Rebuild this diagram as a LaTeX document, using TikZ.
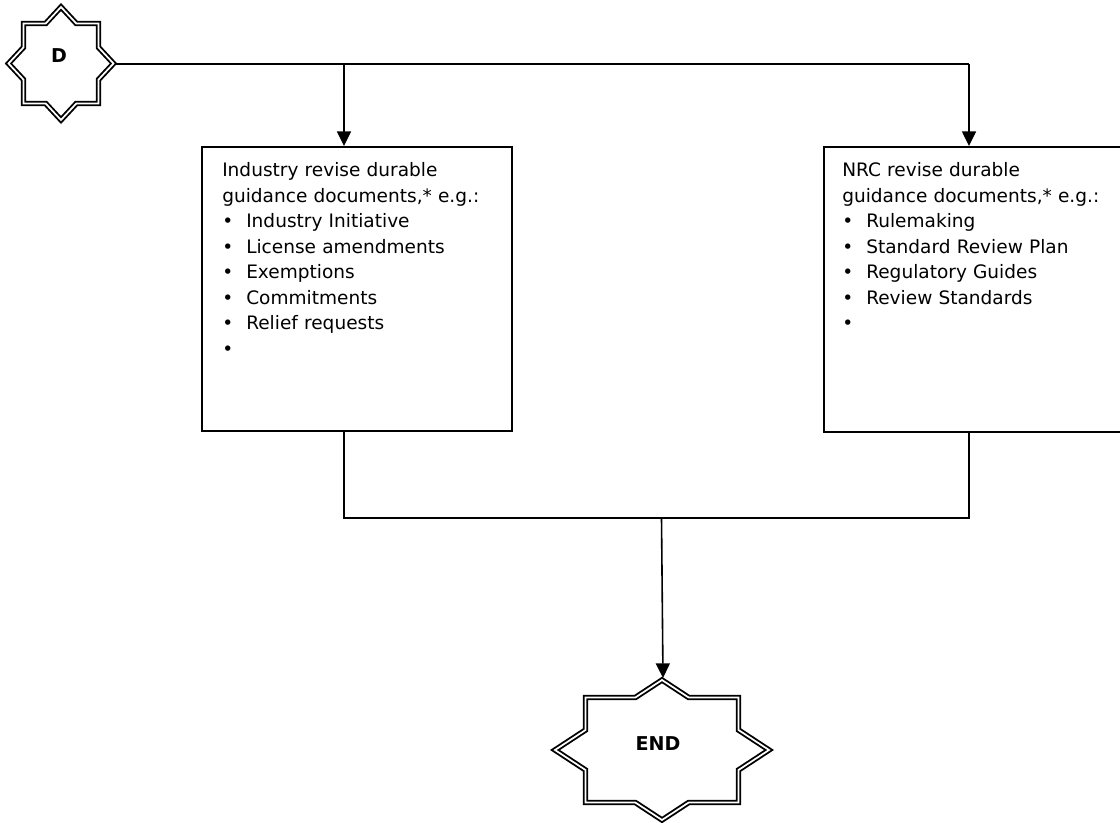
\documentclass[tikz,border=0pt]{standalone}
\usepackage{fontspec}
\setmainfont{DejaVu Sans}
\usetikzlibrary{arrows.meta}
\tikzset{
  conn/.style={draw=black, line width=1.2pt},
  arr/.style={conn, -{Triangle[length=11pt,width=10.5pt]}},
  boxnode/.style={draw=black, line width=1.2pt, rectangle, inner sep=0pt, anchor=north west},
  boxtext/.style={anchor=base west, inner sep=0pt, align=left, text width=220pt,
     font=\fontsize{13.9pt}{19.1pt}\selectfont},
  starline/.style={draw=black, line width=1.4pt, double=white, double distance=1.3pt, line join=miter},
  starlabel/.style={inner sep=0pt, font=\fontsize{14.3pt}{16pt}\selectfont\bfseries}
}
\newcommand\bul{\makebox[18pt][l]{•}}
\begin{document}
\begin{tikzpicture}[x=0.75pt, y=-0.75pt]
\useasboundingbox (0,0) rectangle (1120,823);
% --- D star ---
\coordinate (dc) at (61,63.5);
\draw[starline, shift={(dc)}]
  (0,-56.5) -- (15.3,-40) -- (37.5,-40) -- (37.5,-16.1) -- (52.5,0) -- (37.5,16.1) -- (37.5,40) -- (15.3,40)
  -- (0,56.5) -- (-15.3,40) -- (-37.5,40) -- (-37.5,16.1) -- (-52.5,0) -- (-37.5,-16.1) -- (-37.5,-40) -- (-15.3,-40) -- cycle;
\node[starlabel] (d) at (59,56) {D};
\coordinate (dr) at (115,64);
% --- END star ---
\coordinate (ec) at (662,750);
\draw[starline, shift={(ec)}]
  (0,-70) -- (26.7,-52.5) -- (76.5,-52.5) -- (76.5,-20) -- (107,0) -- (76.5,20) -- (76.5,52.5) -- (26.7,52.5)
  -- (0,70) -- (-26.7,52.5) -- (-76.5,52.5) -- (-76.5,20) -- (-107,0) -- (-76.5,-20) -- (-76.5,-52.5) -- (-26.7,-52.5) -- cycle;
\node[starlabel] (endt) at (658,743.5) {END};
\coordinate (et) at (663,678);
% --- boxes ---
\node[boxnode, minimum width=232.5pt, minimum height=213pt] (ind) at (201,146) {};
\node[boxnode, minimum width=228pt, minimum height=213.75pt] (nrc) at (823,146) {};
\node[boxtext] (indtxt) at (222,177) {Industry revise durable\\guidance documents,* e.g.:\\
\bul Industry Initiative\\\bul License amendments\\\bul Exemptions\\\bul Commitments\\\bul Relief requests\\\bul};
\node[boxtext] (nrctxt) at (842,177) {NRC revise durable\\guidance documents,* e.g.:\\
\bul Rulemaking\\\bul Standard Review Plan\\\bul Regulatory Guides\\\bul Review Standards\\\bul};
% --- connectors ---
\coordinate (tl) at (344,64);
\coordinate (tr) at (969,64);
\coordinate (bl) at (344,518);
\coordinate (br) at (969,518);
\coordinate (bm) at (661.5,518);
\draw[conn] (dr) -- (tr);
\draw[arr] (tl) -- (tl |- ind.north);
\draw[arr] (tr) -- (tr |- nrc.north);
\draw[conn] (bl |- ind.south) -- (bl) -- (br) -- (br |- nrc.south);
\draw[arr] (bm) -- (et);
\end{tikzpicture}
\end{document}
